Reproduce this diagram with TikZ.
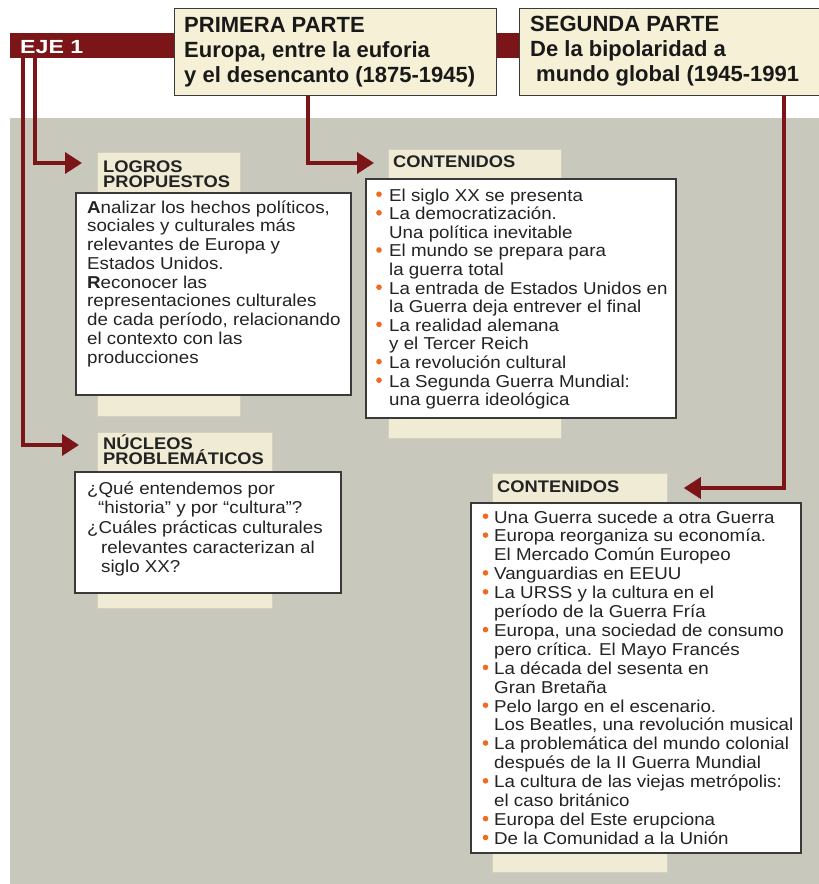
\documentclass[tikz,border=0pt]{standalone}
\usepackage{fontspec}
\setmainfont[FakeStretch=1.09]{Liberation Sans}
\newfontfamily\titlefont{Liberation Sans}
\newfontfamily\widefont[FakeStretch=1.22]{Liberation Sans}
\usetikzlibrary{arrows.meta}
\definecolor{ejered}{HTML}{7B1518}
\definecolor{bggray}{HTML}{C8C8BC}
\definecolor{cream}{HTML}{F6F0D6}
\definecolor{tabcream}{HTML}{EFEBD5}
\definecolor{tabline}{HTML}{D3CFBA}
\definecolor{boxline}{HTML}{3A3A3A}
\definecolor{bul}{HTML}{F26A21}
\definecolor{txt}{HTML}{232323}
\newcommand{\bodyfont}[1]{\fontsize{17.2}{#1}\selectfont\lineskiplimit=-100pt\lineskip=0pt\relax}
\begin{document}
\begin{tikzpicture}[x=1pt,y=-1pt,
  conn/.style={draw=ejered, line width=3.6pt, -{Triangle[length=17pt,width=21pt]}},
  titlebox/.style={draw=boxline, line width=1.2pt, fill=cream, anchor=north west, inner sep=0},
  tabbox/.style={draw=tabline, line width=0.8pt, fill=tabcream, anchor=north west, inner sep=0},
  whitebox/.style={draw=boxline, line width=2pt, fill=white, anchor=north west, inner sep=0},
  txtnode/.style={anchor=base west, inner sep=0, text=txt},
  headnode/.style={anchor=base west, inner sep=0, text=txt, font=\bfseries\fontsize{16.8}{15.5}\selectfont},
  bulletdot/.style={fill=bul},
]
\useasboundingbox (0,0) rectangle (819,884);
\fill[white] (0,0) rectangle (819,884);
\fill[bggray] (10,118) rectangle (819,884);

% EJE bar
\node[fill=ejered, anchor=north west, minimum width=520pt, minimum height=25pt, inner sep=0] (eje) at (10,33) {};
\node[anchor=base west, inner sep=0, text=white, font=\widefont\bfseries\fontsize{19}{19}\selectfont] (ejelabel) at (20,53) {EJE 1};

% title boxes
\node[titlebox, minimum width=322pt, minimum height=87pt] (parte1) at (174,8) {};
\node[txtnode, text=black!90, font=\titlefont\bfseries\fontsize{22}{25}\selectfont] (p1text) at (184,32)
  {\parbox[t]{310pt}{\lineskiplimit=-100pt PRIMERA PARTE\\Europa, entre la euforia\\y el desencanto (1875-1945)}};
\node[titlebox, minimum width=320pt, minimum height=87pt] (parte2) at (519,8) {};
\node[txtnode, text=black!90, font=\titlefont\bfseries\fontsize{22}{25}\selectfont] (p2text) at (530,31)
  {\parbox[t]{290pt}{\lineskiplimit=-100pt SEGUNDA PARTE\\De la bipolaridad a\\\hspace*{6pt}mundo global (1945-1991}};

% LOGROS PROPUESTOS
\node[tabbox, minimum width=143pt, minimum height=264pt] (logtab) at (97,152) {};
\node[headnode] (loghead) at (103,172) {\parbox[t]{140pt}{\lineskiplimit=-100pt LOGROS\\PROPUESTOS}};
\node[whitebox, minimum width=275pt, minimum height=202pt] (logbox) at (75,192) {};
\node[txtnode] (logtext) at (87,213) {\parbox[t]{270pt}{\bodyfont{18.75}%
\textbf{A}nalizar los hechos políticos,\\
sociales y culturales más\\
relevantes de Europa y\\
Estados Unidos.\\
\textbf{R}econocer las\\
representaciones culturales\\
de cada período, relacionando\\
el contexto con las\\
producciones}};

% CONTENIDOS 1
\node[tabbox, minimum width=173pt, minimum height=289pt] (c1tab) at (388,149) {};
\node[headnode] (c1head) at (393,167) {CONTENIDOS};
\node[whitebox, minimum width=310pt, minimum height=239pt] (c1box) at (365,178) {};
\node[txtnode] (c1text) at (389,201) {\parbox[t]{290pt}{\bodyfont{18.6}%
El siglo XX se presenta\\
La democratización.\\
Una política inevitable\\
El mundo se prepara para\\
la guerra total\\
La entrada de Estados Unidos en\\
la Guerra deja entrever el final\\
La realidad alemana\\
y el Tercer Reich\\
La revolución cultural\\
La Segunda Guerra Mundial:\\
una guerra ideológica}};
\foreach \i in {0,1,3,5,7,9,10}
  \fill[bulletdot] ([xshift=-10pt,yshift=6.8pt]c1text.base west) ++(0,18.6*\i) circle (2.8pt);

% NUCLEOS PROBLEMATICOS
\node[tabbox, minimum width=175pt, minimum height=176pt] (nuctab) at (97,432) {};
\node[headnode] (nuchead) at (103,449) {\parbox[t]{170pt}{\lineskiplimit=-100pt NÚCLEOS\\PROBLEMÁTICOS}};
\node[whitebox, minimum width=266pt, minimum height=121pt] (nucbox) at (74,471) {};
\node[txtnode] (nuctext) at (87,494) {\parbox[t]{260pt}{\bodyfont{19.7}%
¿Qué entendemos por\\
\hspace*{11pt}“historia” y por “cultura”?\\
¿Cuáles prácticas culturales\\
\hspace*{14pt}relevantes caracterizan al\\
\hspace*{14pt}siglo XX?}};

% CONTENIDOS 2
\node[tabbox, minimum width=175pt, minimum height=399pt] (c2tab) at (492,473) {};
\node[headnode] (c2head) at (497,492) {CONTENIDOS};
\node[whitebox, minimum width=330pt, minimum height=350pt] (c2box) at (470,502) {};
\node[txtnode] (c2text) at (494,523) {\parbox[t]{310pt}{\bodyfont{18.9}%
Una Guerra sucede a otra Guerra\\
Europa reorganiza su economía.\\
El Mercado Común Europeo\\
Vanguardias en EEUU\\
La URSS y la cultura en el\\
período de la Guerra Fría\\
Europa, una sociedad de consumo\\
pero crítica. El Mayo Francés\\
La década del sesenta en\\
Gran Bretaña\\
Pelo largo en el escenario.\\
Los Beatles, una revolución musical\\
La problemática del mundo colonial\\
después de la II Guerra Mundial\\
La cultura de las viejas metrópolis:\\
el caso británico\\
Europa del Este erupciona\\
De la Comunidad a la Unión}};
\foreach \i in {0,1,3,4,6,8,10,12,14,16,17}
  \fill[bulletdot] ([xshift=-8.5pt,yshift=6.8pt]c2text.base west) ++(0,18.9*\i) circle (2.8pt);

% connectors
\coordinate (toLog) at ([xshift=-15pt,yshift=-11pt]logtab.north west);
\coordinate (toNuc) at ([xshift=-18pt,yshift=-13pt]nuctab.north west);
\coordinate (toC1) at ([xshift=-14pt,yshift=-14pt]c1tab.north west);
\coordinate (toC2) at ([xshift=16pt,yshift=-15pt]c2tab.north east);
\draw[conn] ([xshift=25pt]eje.south west) |- (toLog);
\draw[conn] ([xshift=13pt]eje.south west) |- (toNuc);
\draw[conn] ([xshift=134pt]parte1.south west) |- (toC1);
\draw[conn] ([xshift=265pt]parte2.south west) |- (toC2);
\end{tikzpicture}
\end{document}
